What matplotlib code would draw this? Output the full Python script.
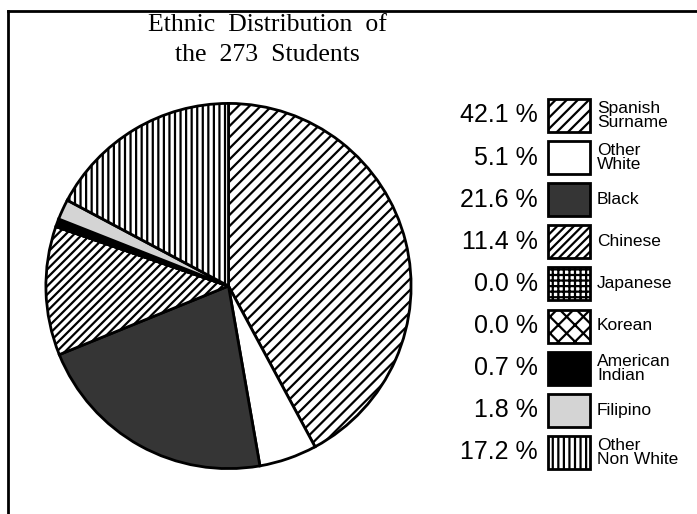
import matplotlib
matplotlib.use("Agg")
import matplotlib.pyplot as plt
from matplotlib.patches import Rectangle
from matplotlib.lines import Line2D

categories = ["Spanish\nSurname", "Other\nWhite", "Black", "Chinese", "Japanese",
              "Korean", "American\nIndian", "Filipino", "Other\nNon White"]
percents = [42.1, 5.1, 21.6, 11.4, 0.0, 0.0, 0.7, 1.8, 17.2]
pct_labels = ["42.1 %", "5.1 %", "21.6 %", "11.4 %", "0.0 %", "0.0 %", "0.7 %", "1.8 %", "17.2 %"]
title_text = "Ethnic  Distribution  of\nthe  273  Students"

faces = ["white", "white", "#353535", "white", "white", "white", "black", "#d4d4d4", "white"]
hatches = ["///", None, None, "////", "+++", "xx", None, None, "|||"]

plt.rcParams["hatch.linewidth"] = 1.6

W, H = 697, 514
fig = plt.figure(figsize=(W / 100, H / 100), dpi=100)

# frame lines (left and top)
fig.add_artist(Line2D([8 / W, 8 / W], [0, 1 - 11 / H], color="black", lw=2))
fig.add_artist(Line2D([8 / W, 1], [1 - 11 / H, 1 - 11 / H], color="black", lw=2))

# pie
cx, cy, r = 228.5, 286, 183.5
ax = fig.add_axes([(cx - r) / W, (H - cy - r) / H, 2 * r / W, 2 * r / H])
wedges, _ = ax.pie(percents, startangle=90, counterclock=False, radius=1,
                   wedgeprops=dict(edgecolor="black", linewidth=2))
ax.set_xlim(-1.005, 1.005)
ax.set_ylim(-1.005, 1.005)
ax.set_aspect("equal")
ax.axis("off")
for w, fc, h in zip(wedges, faces, hatches):
    w.set_facecolor(fc)
    if h:
        w.set_hatch(h)

# title
fig.text(267 / W, 1 - 40 / H, title_text, ha="center", va="center",
         family="Liberation Serif", fontsize=18.5, linespacing=1.42)

# legend
row0, step = 115.5, 42.1
for i, (lab, pl, fc, h) in enumerate(zip(categories, pct_labels, faces, hatches)):
    y = row0 + i * step
    fig.text(538 / W, 1 - y / H, pl, ha="right", va="center",
             family="Liberation Sans", fontsize=18)
    rect = Rectangle((548 / W, 1 - (y + 16.5) / H), 42 / W, 33 / H,
                     transform=fig.transFigure, facecolor=fc, edgecolor="black",
                     linewidth=2, hatch=h)
    fig.add_artist(rect)
    fig.text(597 / W, 1 - y / H, lab, ha="left", va="center",
             family="Liberation Sans", fontsize=12.5, linespacing=0.9)

fig.savefig("out.png", dpi=100)
